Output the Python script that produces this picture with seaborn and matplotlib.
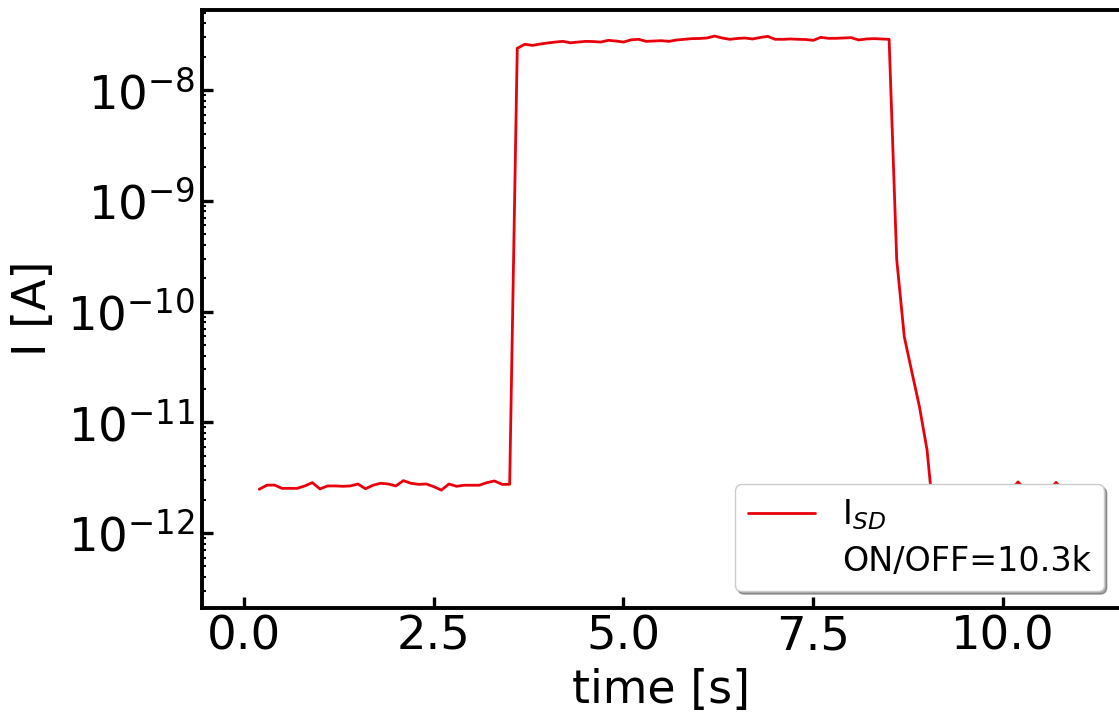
import numpy as np
import pandas as pd
import matplotlib
matplotlib.use("Agg")
import matplotlib.pyplot as plt
import seaborn as sns
from matplotlib.lines import Line2D

# ---- data (time in s, current in A) ----
time_s = [round(0.2 + 0.1 * i, 1) for i in range(89)]
current_A = [
    # 0.2 - 3.5 (OFF)
    2.48e-12, 2.70e-12, 2.71e-12, 2.53e-12, 2.53e-12, 2.53e-12, 2.66e-12, 2.85e-12,
    2.50e-12, 2.66e-12, 2.66e-12, 2.64e-12, 2.66e-12, 2.77e-12, 2.51e-12, 2.70e-12,
    2.81e-12, 2.77e-12, 2.66e-12, 2.97e-12, 2.81e-12, 2.75e-12, 2.77e-12, 2.62e-12,
    2.44e-12, 2.77e-12, 2.64e-12, 2.70e-12, 2.70e-12, 2.70e-12, 2.85e-12, 2.95e-12,
    2.75e-12, 2.75e-12,
    # 3.6 - 8.5 (ON)
    2.38e-8, 2.59e-8, 2.53e-8, 2.60e-8, 2.66e-8, 2.71e-8, 2.75e-8, 2.67e-8,
    2.71e-8, 2.75e-8, 2.74e-8, 2.71e-8, 2.81e-8, 2.77e-8, 2.71e-8, 2.84e-8,
    2.87e-8, 2.75e-8, 2.77e-8, 2.79e-8, 2.75e-8, 2.83e-8, 2.87e-8, 2.91e-8,
    2.92e-8, 2.95e-8, 3.07e-8, 2.95e-8, 2.87e-8, 2.92e-8, 2.95e-8, 2.89e-8,
    2.98e-8, 3.05e-8, 2.87e-8, 2.87e-8, 2.89e-8, 2.87e-8, 2.86e-8, 2.81e-8,
    2.99e-8, 2.93e-8, 2.93e-8, 2.95e-8, 2.97e-8, 2.83e-8, 2.89e-8, 2.91e-8,
    2.89e-8, 2.87e-8,
    # 8.6 - 9.0 (falling)
    2.96e-10, 5.92e-11, 2.84e-11, 1.38e-11, 5.62e-12,
]
# 9.1 - 11.0 (OFF again, mostly behind the legend)
tail_time = [round(9.1 + 0.1 * i, 1) for i in range(20)]
tail_current = [
    1.10e-12, 2.30e-12, 2.40e-12, 2.45e-12, 2.35e-12, 2.42e-12, 2.38e-12, 2.45e-12,
    2.36e-12, 2.40e-12, 2.44e-12, 2.89e-12, 2.42e-12, 2.36e-12, 2.44e-12, 2.40e-12,
    2.86e-12, 2.42e-12, 2.36e-12, 2.40e-12,
]
series_label = r"I$_{SD}$"
ratio_label = "ON/OFF=10.3k"
x_ticks = [0.0, 2.5, 5.0, 7.5, 10.0]

df = pd.DataFrame({"time": time_s + tail_time, "I": current_A + tail_current})

sns.set_style("ticks", {"text.color": "black", "axes.labelcolor": "black",
                        "xtick.color": "black", "ytick.color": "black",
                        "axes.edgecolor": "black"})
plt.rcParams["font.family"] = ["DejaVu Sans"]
plt.rcParams["mathtext.fontset"] = "dejavusans"

fig = plt.figure(figsize=(11.19, 7.15), dpi=100)
ax = fig.add_axes([0.1808, 0.1497, 1.0014 - 0.1808, 0.9867 - 0.1497])

sns.lineplot(data=df, x="time", y="I", color="#e8000b", linewidth=2.0,
             label=series_label, ax=ax, legend=False)

ax.set_yscale("log")
ax.set_xlim(-0.55, 11.55)
ax.set_ylim(10 ** -12.677, 10 ** -7.273)
ax.set_xticks(x_ticks)
ax.set_xticklabels([f"{t:.1f}" for t in x_ticks])

ax.set_xlabel("time [s]", fontsize=33, labelpad=6)
ax.set_ylabel("I [A]", fontsize=33, labelpad=8)

ax.tick_params(axis="both", which="major", direction="in", length=8,
               width=2.4, labelsize=33.5, pad=5, top=False, right=False)
ax.tick_params(axis="y", which="minor", direction="in", length=3.2,
               width=1.5, right=False)
for s in ax.spines.values():
    s.set_linewidth(2.8)
    s.set_color("black")

handles = [Line2D([], [], color="#e8000b", linewidth=2.0),
           Line2D([], [], color="none")]
leg = ax.legend(handles, [series_label, ratio_label], loc="lower right",
                fontsize=24, frameon=True, fancybox=True, shadow=True,
                handlelength=2.0, framealpha=1.0, labelspacing=0.38)
leg.get_frame().set_edgecolor("#cccccc")

fig.savefig("out.png", dpi=100)
